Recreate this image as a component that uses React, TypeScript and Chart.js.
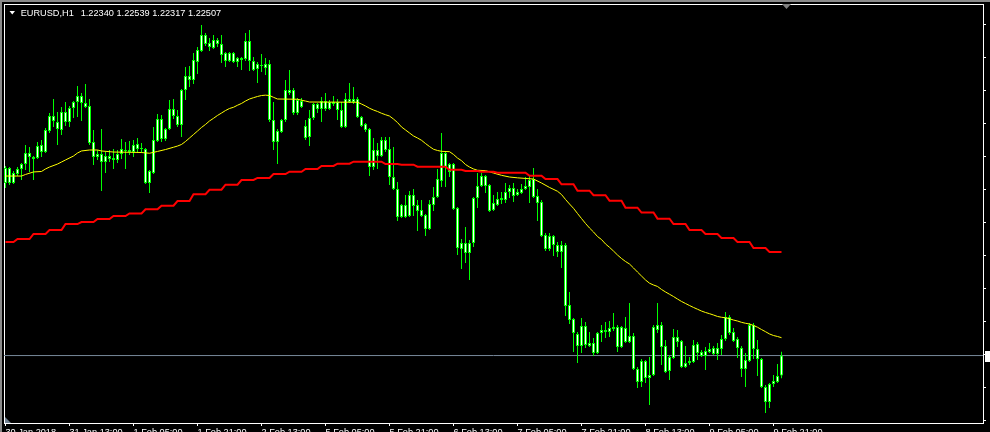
import React, { useEffect, useRef } from 'react';
import { Chart, registerables } from 'chart.js';

Chart.register(...registerables);

// ---- data (EURUSD H1, 30 Jan 2018 21:00 .. 9 Feb 2018 23:00) ----
const symbol = 'EURUSD,H1';

const openP = [
  1.23945, 1.24070, 1.23945, 1.24020, 1.24062, 1.24103, 1.24195, 1.24162, 1.24153, 1.24262,
  1.24203, 1.24378, 1.24503, 1.24453, 1.24387, 1.24537, 1.24453, 1.24570, 1.24620, 1.24670,
  1.24612, 1.24587, 1.24287, 1.24162, 1.24187, 1.24120, 1.24170, 1.24153, 1.24137, 1.24187,
  1.24220, 1.24220, 1.24203, 1.24270, 1.24228, 1.24228, 1.23945, 1.24028, 1.24295, 1.24478,
  1.24312, 1.24395, 1.24562, 1.24503, 1.24428, 1.24720, 1.24837, 1.24803, 1.24953, 1.25045,
  1.25178, 1.25112, 1.25070, 1.25137, 1.25103, 1.25028, 1.24962, 1.25028, 1.24953, 1.24987,
  1.24978, 1.25128, 1.24962, 1.24895, 1.24928, 1.24937, 1.24937, 1.24470, 1.24287, 1.24370,
  1.24470, 1.24720, 1.24720, 1.24528, 1.24628, 1.24420, 1.24328, 1.24487, 1.24603, 1.24562,
  1.24628, 1.24562, 1.24620, 1.24620, 1.24553, 1.24412, 1.24645, 1.24620, 1.24645, 1.24495,
  1.24437, 1.24395, 1.24078, 1.24220, 1.24170, 1.24303, 1.24228, 1.23995, 1.23895, 1.23662,
  1.23762, 1.23670, 1.23845, 1.23762, 1.23720, 1.23678, 1.23562, 1.23762, 1.23828, 1.23962,
  1.24195, 1.24037, 1.24103, 1.23737, 1.23395, 1.23445, 1.23362, 1.23445, 1.23820, 1.23920,
  1.24003, 1.23928, 1.23720, 1.23762, 1.23820, 1.23803, 1.23870, 1.23903, 1.23845, 1.23862,
  1.23895, 1.23912, 1.23978, 1.23837, 1.23787, 1.23512, 1.23395, 1.23503, 1.23428, 1.23370,
  1.23428, 1.22928, 1.22812, 1.22687, 1.22587, 1.22753, 1.22587, 1.22612, 1.22528, 1.22695,
  1.22720, 1.22703, 1.22745, 1.22745, 1.22578, 1.22737, 1.22620, 1.22670, 1.22395, 1.22287,
  1.22462, 1.22320, 1.22345, 1.22720, 1.22762, 1.22587, 1.22378, 1.22487, 1.22662, 1.22628,
  1.22412, 1.22445, 1.22453, 1.22603, 1.22537, 1.22503, 1.22537, 1.22570, 1.22520, 1.22562,
  1.22645, 1.22828, 1.22703, 1.22645, 1.22570, 1.22395, 1.22462, 1.22762, 1.22562, 1.22478,
  1.22245, 1.22120, 1.22270, 1.22287, 1.22340,
];

const highP = [
  1.24087, 1.24078, 1.24045, 1.24078, 1.24112, 1.24262, 1.24245, 1.24170, 1.24287, 1.24303,
  1.24403, 1.24528, 1.24645, 1.24537, 1.24578, 1.24620, 1.24587, 1.24628, 1.24753, 1.24695,
  1.24770, 1.24645, 1.24387, 1.24220, 1.24395, 1.24203, 1.24220, 1.24228, 1.24220, 1.24312,
  1.24287, 1.24295, 1.24303, 1.24320, 1.24278, 1.24237, 1.24053, 1.24412, 1.24520, 1.24512,
  1.24403, 1.24637, 1.24645, 1.24553, 1.24728, 1.24912, 1.24920, 1.25028, 1.25078, 1.25262,
  1.25195, 1.25153, 1.25178, 1.25153, 1.25178, 1.25037, 1.25037, 1.25037, 1.24995, 1.24995,
  1.25195, 1.25220, 1.24995, 1.24953, 1.25020, 1.24987, 1.24970, 1.24620, 1.24395, 1.24478,
  1.24803, 1.24887, 1.24737, 1.24653, 1.24653, 1.24470, 1.24553, 1.24612, 1.24612, 1.24662,
  1.24695, 1.24637, 1.24670, 1.24645, 1.24620, 1.24695, 1.24778, 1.24745, 1.24662, 1.24503,
  1.24445, 1.24403, 1.24320, 1.24278, 1.24328, 1.24328, 1.24328, 1.24245, 1.23953, 1.23770,
  1.23845, 1.23878, 1.23895, 1.23803, 1.23803, 1.23687, 1.23803, 1.23912, 1.24062, 1.24362,
  1.24203, 1.24112, 1.24112, 1.23745, 1.23478, 1.23578, 1.23470, 1.23828, 1.24028, 1.24028,
  1.24012, 1.23937, 1.23845, 1.23870, 1.23870, 1.23945, 1.23928, 1.23945, 1.23895, 1.23937,
  1.23995, 1.24012, 1.24070, 1.23895, 1.23803, 1.23528, 1.23528, 1.23512, 1.23453, 1.23462,
  1.23445, 1.23037, 1.22820, 1.22703, 1.22820, 1.22787, 1.22703, 1.22653, 1.22703, 1.22762,
  1.22787, 1.22795, 1.22862, 1.22762, 1.22753, 1.22828, 1.22945, 1.22695, 1.22412, 1.22478,
  1.22470, 1.22495, 1.22762, 1.22945, 1.22787, 1.22637, 1.22512, 1.22728, 1.22720, 1.22637,
  1.22587, 1.22495, 1.22637, 1.22620, 1.22553, 1.22578, 1.22612, 1.22587, 1.22612, 1.22678,
  1.22870, 1.22845, 1.22737, 1.22662, 1.22587, 1.22528, 1.22778, 1.22778, 1.22637, 1.22487,
  1.22262, 1.22278, 1.22345, 1.22437, 1.22539,
];

const lowP = [
  1.23903, 1.23928, 1.23937, 1.24003, 1.23970, 1.24053, 1.24037, 1.23970, 1.24145, 1.24162,
  1.24195, 1.24362, 1.24412, 1.24262, 1.24345, 1.24420, 1.24412, 1.24487, 1.24495, 1.24462,
  1.24570, 1.24262, 1.24095, 1.24137, 1.23878, 1.24028, 1.24120, 1.24062, 1.24112, 1.24145,
  1.24062, 1.24178, 1.24162, 1.24203, 1.24195, 1.23937, 1.23862, 1.24020, 1.24287, 1.24287,
  1.24295, 1.24387, 1.24478, 1.24412, 1.24328, 1.24637, 1.24745, 1.24770, 1.24853, 1.25037,
  1.25087, 1.25045, 1.25062, 1.25078, 1.24945, 1.24912, 1.24953, 1.24945, 1.24912, 1.24887,
  1.24962, 1.24878, 1.24878, 1.24778, 1.24870, 1.24845, 1.24453, 1.24220, 1.24103, 1.24362,
  1.24453, 1.24678, 1.24512, 1.24512, 1.24570, 1.24303, 1.24253, 1.24470, 1.24528, 1.24453,
  1.24545, 1.24553, 1.24587, 1.24470, 1.24403, 1.24403, 1.24612, 1.24603, 1.24487, 1.24412,
  1.24370, 1.24003, 1.24053, 1.24062, 1.24162, 1.24203, 1.23928, 1.23887, 1.23628, 1.23653,
  1.23653, 1.23662, 1.23670, 1.23545, 1.23662, 1.23503, 1.23553, 1.23712, 1.23820, 1.23912,
  1.23912, 1.23995, 1.23720, 1.23345, 1.23228, 1.23278, 1.23137, 1.23412, 1.23737, 1.23912,
  1.23862, 1.23703, 1.23712, 1.23753, 1.23770, 1.23778, 1.23820, 1.23787, 1.23837, 1.23853,
  1.23887, 1.23778, 1.23820, 1.23628, 1.23495, 1.23378, 1.23378, 1.23337, 1.23328, 1.23237,
  1.22837, 1.22770, 1.22537, 1.22445, 1.22528, 1.22570, 1.22578, 1.22503, 1.22520, 1.22620,
  1.22653, 1.22662, 1.22712, 1.22537, 1.22570, 1.22612, 1.22612, 1.22387, 1.22237, 1.22245,
  1.22278, 1.22095, 1.22337, 1.22695, 1.22428, 1.22362, 1.22303, 1.22478, 1.22578, 1.22403,
  1.22403, 1.22428, 1.22445, 1.22470, 1.22495, 1.22387, 1.22528, 1.22512, 1.22470, 1.22512,
  1.22628, 1.22678, 1.22620, 1.22487, 1.22328, 1.22245, 1.22453, 1.22478, 1.22337, 1.22237,
  1.22028, 1.22070, 1.22245, 1.22278, 1.22317,
];

const closeP = [
  1.24070, 1.23945, 1.24028, 1.24062, 1.24103, 1.24195, 1.24162, 1.24145, 1.24253, 1.24203,
  1.24387, 1.24503, 1.24462, 1.24395, 1.24537, 1.24453, 1.24570, 1.24620, 1.24670, 1.24612,
  1.24578, 1.24278, 1.24162, 1.24187, 1.24120, 1.24170, 1.24145, 1.24137, 1.24187, 1.24228,
  1.24212, 1.24203, 1.24262, 1.24228, 1.24237, 1.23945, 1.24045, 1.24303, 1.24478, 1.24312,
  1.24395, 1.24562, 1.24503, 1.24428, 1.24720, 1.24837, 1.24803, 1.24970, 1.25053, 1.25178,
  1.25103, 1.25078, 1.25137, 1.25103, 1.25012, 1.24962, 1.25028, 1.24953, 1.24987, 1.24970,
  1.25128, 1.24962, 1.24887, 1.24937, 1.24920, 1.24903, 1.24470, 1.24287, 1.24378, 1.24470,
  1.24720, 1.24695, 1.24528, 1.24637, 1.24578, 1.24320, 1.24487, 1.24603, 1.24562, 1.24628,
  1.24562, 1.24620, 1.24603, 1.24553, 1.24412, 1.24645, 1.24620, 1.24645, 1.24495, 1.24420,
  1.24387, 1.24078, 1.24220, 1.24170, 1.24303, 1.24220, 1.23995, 1.23895, 1.23662, 1.23762,
  1.23662, 1.23845, 1.23753, 1.23712, 1.23670, 1.23562, 1.23770, 1.23828, 1.23978, 1.24195,
  1.24078, 1.24103, 1.23728, 1.23403, 1.23445, 1.23362, 1.23445, 1.23820, 1.23920, 1.24003,
  1.23920, 1.23712, 1.23778, 1.23812, 1.23803, 1.23870, 1.23903, 1.23837, 1.23870, 1.23895,
  1.23920, 1.23970, 1.23828, 1.23778, 1.23503, 1.23395, 1.23503, 1.23428, 1.23370, 1.23428,
  1.22920, 1.22803, 1.22695, 1.22587, 1.22753, 1.22595, 1.22612, 1.22528, 1.22695, 1.22720,
  1.22703, 1.22737, 1.22728, 1.22578, 1.22745, 1.22620, 1.22670, 1.22395, 1.22287, 1.22462,
  1.22320, 1.22345, 1.22745, 1.22762, 1.22578, 1.22370, 1.22495, 1.22662, 1.22620, 1.22412,
  1.22445, 1.22462, 1.22595, 1.22528, 1.22503, 1.22545, 1.22562, 1.22520, 1.22570, 1.22645,
  1.22828, 1.22695, 1.22628, 1.22570, 1.22395, 1.22470, 1.22762, 1.22562, 1.22478, 1.22245,
  1.22120, 1.22270, 1.22295, 1.22337, 1.22507,
];

// yellow moving average, read at these bar indices
const maIdx = [
  0, 4, 5, 7, 9, 10, 11, 13, 14, 15, 17, 18, 19, 21, 23, 24, 27, 31, 34, 36,
  38, 40, 42, 43, 44, 45, 46, 47, 48, 49, 50, 51, 52, 53, 54, 55, 56, 57, 58, 59,
  60, 61, 62, 63, 64, 65, 66, 67, 68, 73, 74, 75, 76, 88, 89, 90, 91, 92, 93, 94,
  95, 96, 97, 98, 99, 100, 101, 102, 103, 104, 105, 106, 107, 108, 109, 111, 112, 113, 114, 115,
  116, 117, 118, 120, 122, 124, 126, 128, 130, 132, 134, 136, 138, 139, 140, 141, 142, 143, 144, 145,
  146, 147, 148, 149, 150, 151, 152, 153, 154, 155, 156, 157, 158, 159, 160, 161, 162, 163, 164, 165,
  166, 167, 168, 169, 170, 171, 172, 173, 174, 175, 176, 177, 178, 179, 180, 181, 182, 183, 184, 185,
  186, 187, 188, 189, 190, 191, 192, 193, 194,
];
const maVal = [
  1.24003, 1.24003, 1.24016, 1.24037, 1.24041, 1.24062, 1.24078, 1.24103, 1.24120, 1.24137, 1.24170, 1.24195, 1.24212, 1.24220, 1.24220, 1.24212, 1.24203, 1.24201, 1.24199, 1.24193,
  1.24208, 1.24224, 1.24243, 1.24253, 1.24266, 1.24291, 1.24320, 1.24349, 1.24378, 1.24408, 1.24433, 1.24462, 1.24484, 1.24508, 1.24528, 1.24549, 1.24566, 1.24576, 1.24593, 1.24608,
  1.24628, 1.24645, 1.24656, 1.24666, 1.24674, 1.24677, 1.24674, 1.24659, 1.24645, 1.24643, 1.24635, 1.24628, 1.24620, 1.24618, 1.24603, 1.24587, 1.24568, 1.24553, 1.24541, 1.24526,
  1.24514, 1.24503, 1.24478, 1.24449, 1.24412, 1.24387, 1.24362, 1.24337, 1.24320, 1.24301, 1.24274, 1.24249, 1.24226, 1.24216, 1.24209, 1.24206, 1.24183, 1.24153, 1.24131, 1.24099,
  1.24078, 1.24062, 1.24051, 1.24048, 1.24028, 1.24009, 1.23995, 1.23988, 1.23983, 1.23978, 1.23945, 1.23908, 1.23876, 1.23849, 1.23808, 1.23770, 1.23734, 1.23691, 1.23649, 1.23608,
  1.23570, 1.23537, 1.23499, 1.23474, 1.23437, 1.23409, 1.23378, 1.23345, 1.23316, 1.23291, 1.23270, 1.23237, 1.23203, 1.23170, 1.23137, 1.23110, 1.23095, 1.23083, 1.23058, 1.23037,
  1.23018, 1.22999, 1.22978, 1.22958, 1.22941, 1.22924, 1.22908, 1.22893, 1.22878, 1.22866, 1.22856, 1.22845, 1.22833, 1.22826, 1.22822, 1.22814, 1.22803, 1.22795, 1.22784, 1.22776,
  1.22770, 1.22758, 1.22743, 1.22724, 1.22706, 1.22687, 1.22674, 1.22666, 1.22656,
];

// red moving average from the H4 timeframe: one value per 4-hour block
const maH4 = [
  1.23453, 1.23478, 1.23520, 1.23553, 1.23603, 1.23620, 1.23645, 1.23670, 1.23691, 1.23726,
  1.23756, 1.23795, 1.23851, 1.23889, 1.23931, 1.23970, 1.23987, 1.24020, 1.24039, 1.24062,
  1.24087, 1.24106, 1.24123, 1.24123, 1.24103, 1.24098, 1.24081, 1.24081, 1.24056, 1.24045,
  1.24039, 1.24031, 1.24031, 1.24006, 1.23978, 1.23934, 1.23881, 1.23843, 1.23798, 1.23739,
  1.23699, 1.23648, 1.23603, 1.23553, 1.23520, 1.23487, 1.23453, 1.23403, 1.23370,
];

const xTickIdx = [0, 16, 32, 48, 64, 80, 96, 112, 128, 144, 160, 176, 192];
const xTickLabels = [
  '30 Jan 2018', '31 Jan 13:00', '1 Feb 05:00', '1 Feb 21:00', '2 Feb 13:00',
  '5 Feb 05:00', '5 Feb 21:00', '6 Feb 13:00', '7 Feb 05:00', '7 Feb 21:00',
  '8 Feb 13:00', '9 Feb 05:00', '9 Feb 21:00',
];
const yTickValues = [
  1.25266, 1.24991, 1.24716, 1.24441, 1.24166, 1.23891, 1.23616,
  1.23341, 1.23066, 1.22791, 1.22516, 1.22241, 1.21966,
];

const X_MIN = -0.375;
const X_MAX = 244.375;
const Y_MIN = 1.21945;
const Y_MAX = 1.2543667;

const LIME = '#00ff00';
const FONT = 'Liberation Sans';

const mt4Plugin = {
  id: 'mt4Decor',
  beforeDraw(chart: any) {
    const ctx = chart.ctx;
    ctx.save();
    ctx.fillStyle = '#000000';
    ctx.fillRect(0, 0, chart.width, chart.height);
    ctx.fillStyle = '#8a8a8a';
    ctx.fillRect(0, 0, chart.width, 2);
    ctx.fillRect(0, 0, 2, chart.height);
    ctx.restore();
  },
  afterDraw(chart: any) {
    const ctx = chart.ctx;
    const last = closeP.length - 1;
    ctx.save();
    // title
    ctx.fillStyle = '#ffffff';
    ctx.beginPath();
    ctx.moveTo(9.5, 11);
    ctx.lineTo(15, 11);
    ctx.lineTo(12.25, 14.5);
    ctx.closePath();
    ctx.fill();
    ctx.font = `9.2px "${FONT}"`;
    ctx.textBaseline = 'alphabetic';
    ctx.fillText(symbol, 20.7, 16);
    const hdr = [openP[last], highP[last], lowP[last], closeP[last]].map((v) => v.toFixed(5)).join(' ');
    ctx.fillText(hdr, 80.7, 16);
    // chart shift marker
    ctx.fillStyle = '#808080';
    ctx.beginPath();
    ctx.moveTo(782, 4);
    ctx.lineTo(791, 4);
    ctx.lineTo(786.5, 9);
    ctx.closePath();
    ctx.fill();
    // bottom-left marker
    ctx.fillStyle = '#708090';
    ctx.beginPath();
    ctx.moveTo(5, 417);
    ctx.lineTo(5, 423);
    ctx.lineTo(11, 423);
    ctx.closePath();
    ctx.fill();
    // bid price label on axis
    const yb = chart.scales.y.getPixelForValue(closeP[last]);
    ctx.fillStyle = '#ffffff';
    ctx.fillRect(985, Math.round(yb) - 5, 8, 11);
    ctx.restore();
  },
};

export default function App() {
  const ref = useRef<HTMLCanvasElement>(null);

  useEffect(() => {
    const canvas = ref.current;
    if (!canvas) return;
    const idx = closeP.map((_, i) => i);
    const last = closeP.length - 1;

    const chart = new Chart(canvas, {
      type: 'bar',
      data: {
        datasets: [
          {
            type: 'line',
            label: 'bid',
            data: [
              { x: X_MIN, y: closeP[last] },
              { x: X_MAX, y: closeP[last] },
            ],
            borderColor: '#778899',
            borderWidth: 1,
            pointRadius: 0,
            order: 6,
          } as any,
          {
            type: 'bar',
            label: 'wicks',
            data: idx.map((i) => ({ x: i, y: [lowP[i], highP[i]] })),
            backgroundColor: LIME,
            borderWidth: 0,
            barThickness: 1,
            grouped: false,
            inflateAmount: 0,
            order: 5,
          } as any,
          {
            type: 'bar',
            label: 'bodies',
            data: idx.map((i) => ({ x: i, y: [openP[i], closeP[i]] })),
            backgroundColor: '#ffffff',
            borderColor: LIME,
            borderWidth: 1,
            borderSkipped: false,
            barThickness: 3,
            grouped: false,
            inflateAmount: 0,
            order: 4,
          } as any,
          {
            type: 'line',
            label: 'MA',
            data: maIdx.map((x, k) => ({ x, y: maVal[k] })),
            borderColor: '#ffff00',
            borderWidth: 1,
            pointRadius: 0,
            tension: 0,
            order: 2,
          } as any,
          {
            type: 'line',
            label: 'MA H4',
            data: idx.map((i) => ({ x: i, y: maH4[Math.floor((i + 1) / 4)] })),
            borderColor: '#ff0000',
            borderWidth: 2,
            pointRadius: 0,
            tension: 0,
            order: 1,
          } as any,
        ],
      },
      options: {
        animation: false,
        responsive: false,
        maintainAspectRatio: false,
        devicePixelRatio: 1,
        events: [],
        layout: { padding: 0 },
        plugins: {
          legend: { display: false },
          tooltip: { enabled: false },
          title: { display: false },
        },
        scales: {
          x: {
            type: 'linear',
            axis: 'x',
            position: 'bottom',
            min: X_MIN,
            max: X_MAX,
            offset: false,
            z: 1,
            afterFit: (s: any) => { s.height = 9; },
            afterBuildTicks: (s: any) => { s.ticks = xTickIdx.map((v) => ({ value: v })); },
            ticks: {
              autoSkip: false,
              maxRotation: 0,
              minRotation: 0,
              align: 'start',
              padding: 1,
              color: '#ffffff',
              font: { family: FONT, size: 9.2 },
              callback: (_v: any, i: number) => xTickLabels[i],
            },
            grid: { display: true, drawOnChartArea: false, drawTicks: true, tickLength: 3, color: '#ffffff', offset: false },
            border: { display: true, color: '#ffffff', width: 1 },
          },
          y: {
            type: 'linear',
            axis: 'y',
            position: 'right',
            min: Y_MIN,
            max: Y_MAX,
            z: 1,
            afterFit: (s: any) => { s.width = 7; },
            afterBuildTicks: (s: any) => { s.ticks = yTickValues.map((v) => ({ value: v })); },
            ticks: { display: false },
            grid: { display: true, drawOnChartArea: false, drawTicks: true, tickLength: 3, color: '#ffffff' },
            border: { display: true, color: '#ffffff', width: 1 },
          },
          xT: {
            type: 'linear',
            axis: 'x',
            position: 'top',
            min: 0,
            max: 1,
            z: 1,
            afterFit: (s: any) => { s.height = 4; },
            ticks: { display: false },
            grid: { display: true, drawOnChartArea: false, drawTicks: false, color: '#ffffff' },
            border: { display: true, color: '#ffffff', width: 1 },
          },
          yL: {
            type: 'linear',
            axis: 'y',
            position: 'left',
            min: 0,
            max: 1,
            z: 1,
            afterFit: (s: any) => { s.width = 4; },
            ticks: { display: false },
            grid: { display: true, drawOnChartArea: false, drawTicks: false, color: '#ffffff' },
            border: { display: true, color: '#ffffff', width: 1 },
          },
        },
      } as any,
      plugins: [mt4Plugin],
    });

    return () => chart.destroy();
  }, []);

  return (
    <div style={{ position: 'fixed', left: 0, top: 0, width: 990, height: 432, background: '#000', overflow: 'hidden' }}>
      <canvas ref={ref} width={990} height={432} style={{ display: 'block', width: 990, height: 432 }} />
    </div>
  );
}
